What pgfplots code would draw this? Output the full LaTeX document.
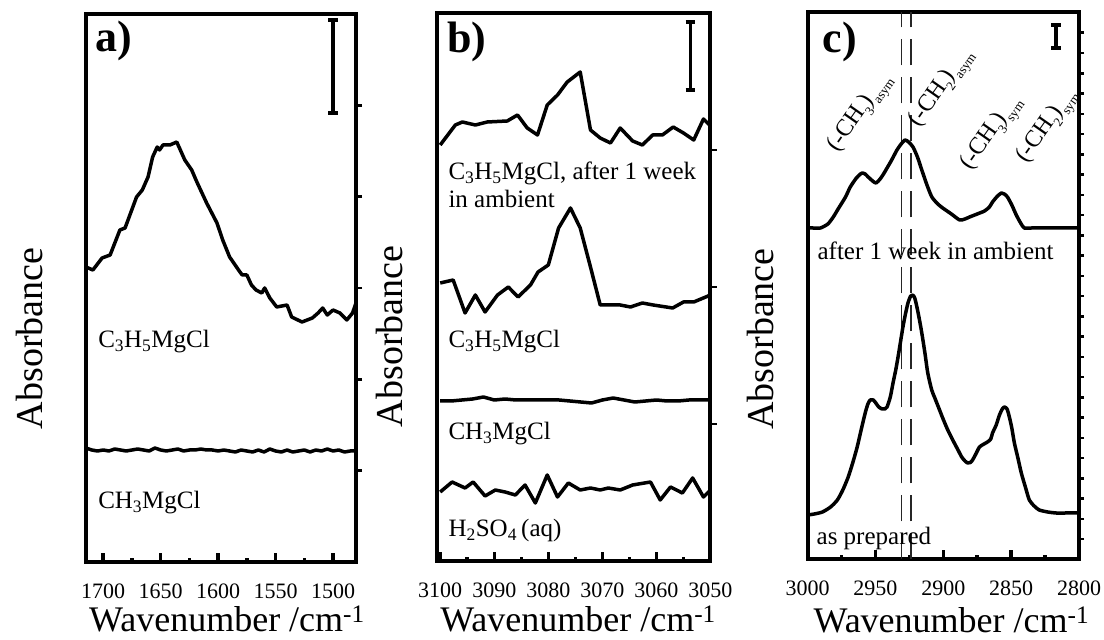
\documentclass[border=0pt]{standalone}
\usepackage{fontspec}
\setmainfont{Liberation Serif}
\usepackage{pgfplots}
\pgfplotsset{compat=1.18}
\newcommand{\lab}{\fontsize{25}{30}\selectfont}
\newcommand{\bandlab}{\fontsize{24}{28}\selectfont}
\newcommand{\bsub}[1]{\raisebox{-0.28em}{\fontsize{13}{13}\selectfont #1}}
\pgfplotsset{
  spec/.style={line width=3.5pt, black, line join=round, no markers},
  panel/.style={
    scale only axis, anchor=south west,
    x dir=reverse,
    axis line style={line width=4pt, line cap=rect},
    tick align=inside,
    xtick pos=bottom,
    ytick=\empty,
    major tick length=9pt, minor tick length=4pt,
    tick style={line width=3.5pt, black},
    /pgf/number format/assume math mode=true,
    /pgf/number format/set thousands separator={},
    tick label style={font=\fontsize{22}{22}\selectfont},
    xticklabel style={yshift=-18pt},
    xlabel={Wavenumber /cm\textsuperscript{-1}},
    ylabel={Absorbance},
    xlabel style={font=\fontsize{36}{36}\selectfont},
    ylabel style={font=\fontsize{38}{38}\selectfont},
  },
  rticks/.style={
    scale only axis, anchor=south west,
    xmin=0, xmax=1, xtick=\empty,
    ytick pos=right, tick align=outside, major tick length=6pt,
    yticklabels={},
    axis line style={draw=none},
    tick style={line width=2.5pt, black},
  }
}
\begin{document}
\begin{tikzpicture}
\useasboundingbox (0,0) rectangle (1104pt,640pt);

% ---------------- panel a ----------------
\begin{axis}[rticks, at={(86pt,78pt)}, width=270pt, height=548pt,
  ymin=78, ymax=626, ytick={169.3,260.7,352,443.3,534.7}]
\end{axis}
\begin{axis}[panel, at={(86pt,78pt)}, width=270pt, height=548pt,
  xmin=1480, xmax=1715, ymin=78, ymax=626,
  xtick={1500,1550,1600,1650,1700}, minor xtick={1525,1575,1625,1675},
  xlabel style={at={(axis description cs:0.522,-0.1265)}, anchor=base},
  ylabel style={at={(axis description cs:-0.1593,0.408)}, anchor=base},
]
\addplot[spec] coordinates {
(1715,373) (1709,370) (1701,382) (1694,385) (1685.5,410) (1681,412)
(1671,443) (1666,450) (1661,463) (1657,483) (1653,493) (1651,490)
(1648,495) (1642,495) (1636,498) (1629,480) (1623,470) (1618.5,458)
(1610,437) (1601,417) (1596,400) (1590,383) (1581,368) (1579,365)
(1575,365) (1571,355) (1567,350) (1562,347) (1559.5,352) (1555,342)
(1549,333) (1540,335) (1536,323) (1527,318) (1518,322) (1513,327)
(1509,332) (1505,325) (1500,330) (1494,327) (1488,320) (1483,327) (1480,337)};
\addplot[spec] coordinates {
(1715,192) (1710,190) (1705,189) (1700,190) (1695,189) (1690,191) (1685,190)
(1680,189) (1675,190) (1670,191) (1665,190) (1660,189) (1655,192) (1650,190)
(1645,189) (1640,190) (1635,191) (1630,189) (1625,190) (1620,190) (1615,191)
(1610,190) (1605,190) (1600,189) (1595,190) (1590,189) (1585,188) (1580,190)
(1575,189) (1570,188) (1565,190) (1560,188) (1555,191) (1550,189) (1545,188)
(1540,190) (1535,188) (1530,189) (1525,190) (1520,188) (1515,190) (1510,189)
(1505,191) (1500,189) (1495,190) (1490,188) (1485,189) (1480,189)};
\node[anchor=base west, inner sep=0, font=\bfseries\fontsize{44}{44}\selectfont] at (axis cs:1707,588) {a)};
\node[anchor=base west, inner sep=0, font=\lab] at (axis cs:1704.5,292) {C\textsubscript{3}H\textsubscript{5}MgCl};
\node[anchor=base west, inner sep=0, font=\lab] at (axis cs:1704.5,131) {CH\textsubscript{3}MgCl};
\draw[line width=3.5pt] (axis cs:1500,620) -- (axis cs:1500,527);
\draw[line width=3.5pt] (axis cs:1504.3,620) -- (axis cs:1495.7,620);
\draw[line width=3.5pt] (axis cs:1504.3,527) -- (axis cs:1495.7,527);
\end{axis}

% ---------------- panel b ----------------
\begin{axis}[rticks, at={(437.5pt,79pt)}, width=273pt, height=548pt,
  ymin=79, ymax=627, ytick={216,353,490}]
\end{axis}
\begin{axis}[panel, at={(437.5pt,79pt)}, width=273pt, height=548pt,
  xmin=3050, xmax=3100.5, ymin=79, ymax=627,
  xtick={3050,3060,3070,3080,3090,3100}, minor xtick={3055,3065,3075,3085,3095},
  xlabel style={at={(axis description cs:0.515,-0.1283)}, anchor=base},
  ylabel style={at={(axis description cs:-0.1264,0.41)}, anchor=base},
]
\addplot[spec] coordinates {
(3100,495) (3097.2,515) (3095.9,518) (3093.5,515) (3091.3,518) (3087.6,519)
(3085.7,525) (3083.9,512) (3082.0,505) (3080.2,535) (3078.3,545) (3076.5,558)
(3074.1,568) (3072.2,510) (3070.4,502) (3068.5,497) (3066.7,512) (3064.4,499)
(3062.6,495) (3060.7,505) (3058.9,505) (3056.9,513) (3055.0,507) (3053.1,500)
(3051.3,521) (3050,514)};
\addplot[spec] coordinates {
(3100,357) (3097.6,360) (3095.4,327) (3093.5,345) (3091.7,328) (3089.4,345)
(3087.4,353) (3085.6,343) (3083.3,355) (3081.9,368) (3080.0,375) (3078.1,412)
(3075.9,432) (3074.1,412) (3072.2,373) (3070.4,335) (3066.7,335) (3064.8,333)
(3062.6,337) (3060.6,335) (3057.0,332) (3055.0,338) (3053.1,338) (3050,345)};
\addplot[spec] coordinates {
(3100,239) (3098,239) (3096,240) (3094,241) (3092,243) (3090,240) (3088,241)
(3086,240) (3084,240) (3082,240) (3080,240) (3078,240) (3076,239) (3074,238)
(3072,237) (3070,240) (3068,242) (3066,240) (3064,238) (3062,239) (3060,240)
(3058,239) (3056,239) (3054,240) (3052,240) (3050,240)};
\addplot[spec] coordinates {
(3100,148) (3097.8,158) (3095.4,152) (3093.9,158) (3091.7,144) (3089.8,150)
(3088.0,148) (3086.1,145) (3084.3,155) (3082.4,137) (3080.2,165) (3078.3,143)
(3076.3,157) (3074.1,150) (3072.2,152) (3070.4,150) (3068.9,152) (3066.7,150)
(3064.4,155) (3061.1,158) (3059.3,140) (3057.4,153) (3055.2,147) (3053.3,162)
(3051.3,143) (3050,150)};
\node[anchor=base west, inner sep=0, font=\bfseries\fontsize{44}{44}\selectfont] at (axis cs:3098.7,587) {b)};
\node[anchor=base west, inner sep=0, font=\lab] at (axis cs:3098.5,460) {C\textsubscript{3}H\textsubscript{5}MgCl, after 1 week};
\node[anchor=base west, inner sep=0, font=\lab] at (axis cs:3098.5,432) {in ambient};
\node[anchor=base west, inner sep=0, font=\lab] at (axis cs:3098.5,292) {C\textsubscript{3}H\textsubscript{5}MgCl};
\node[anchor=base west, inner sep=0, font=\lab] at (axis cs:3098.5,200) {CH\textsubscript{3}MgCl};
\node[anchor=base west, inner sep=0, font=\lab] at (axis cs:3098.5,103) {H\textsubscript{2}SO\textsubscript{4}\,(aq)};
\draw[line width=3.5pt] (axis cs:3053.7,618) -- (axis cs:3053.7,550);
\draw[line width=3.5pt] (axis cs:3054.6,618) -- (axis cs:3052.8,618);
\draw[line width=3.5pt] (axis cs:3054.6,550) -- (axis cs:3052.8,550);
\end{axis}

% ---------------- panel c ----------------
\begin{axis}[rticks, at={(807.5pt,80.5pt)}, width=271.5pt, height=547pt,
  ymin=80.5, ymax=627.5, ytick={100.76,121.02,...,607.3}, major tick length=5pt]
\end{axis}
\begin{axis}[panel, at={(807.5pt,80.5pt)}, width=271.5pt, height=547pt,
  xmin=2800, xmax=3000, ymin=80.5, ymax=627.5,
  xtick={2800,2850,2900,2950,3000}, minor xtick={2825,2875,2925,2975},
  xlabel style={at={(axis description cs:0.53,-0.1326)}, anchor=base},
  ylabel style={at={(axis description cs:-0.1268,0.403)}, anchor=base},
]
\addplot[line width=1.5pt, black!85, dash pattern=on 26pt off 12pt] coordinates {(2930.6,80.5) (2930.6,627.5)};
\addplot[line width=1.5pt, black!85, dash pattern=on 26pt off 12pt] coordinates {(2923.8,80.5) (2923.8,627.5)};
\addplot[spec, smooth, tension=0.4] coordinates {
(3000,412) (2996,412) (2990.5,412) (2985,416) (2981,423) (2977,432) (2972,443)
(2968.5,453) (2964,462) (2961,466) (2959.7,467) (2957.5,466) (2955.3,463)
(2952,459) (2949.5,457) (2946.5,461) (2944,466) (2941.4,472) (2938,480)
(2934.1,490) (2931,496) (2928.2,500) (2925.5,498) (2922.3,493) (2919,483)
(2915.8,470) (2912,455) (2908.4,443) (2904,436) (2900.4,432) (2894,426)
(2887.9,420) (2884,421) (2880.6,423) (2875,426) (2869.6,429) (2866,433)
(2863.7,438) (2860,444) (2857.1,447) (2855,446) (2852.7,443) (2849.5,435)
(2846.2,425) (2843,417) (2840.3,412) (2835,412) (2800,412)};
\addplot[spec, smooth, tension=0.4] coordinates {
(3000,125) (2995,126) (2989,128) (2983,133) (2978,140) (2974,150) (2970,163)
(2966.5,178) (2963.4,193) (2960.5,210) (2957.5,227) (2955.5,236) (2953.8,240)
(2951.5,240) (2950.2,238) (2947.5,233) (2945,231) (2943,231) (2941.4,233)
(2939,243) (2937,257) (2935,270) (2933.3,283) (2931.5,298) (2929.7,313)
(2928,325) (2926,337) (2924,344) (2922.5,345) (2921,342) (2919.4,333)
(2917.5,320) (2915.8,307) (2913.5,287) (2911.4,267) (2908.5,250) (2906.2,242)
(2903,231) (2900.4,222) (2897,211) (2893,200) (2889.5,191) (2886.4,183)
(2884,179) (2882,177) (2880,177.5) (2878.4,180) (2876,186) (2873.3,193)
(2870,196) (2867.4,198) (2865,201) (2863.7,207) (2861,215) (2858.6,225)
(2856.5,231) (2855,233) (2853,231) (2851.3,223) (2849.5,212) (2847.6,197)
(2845,182) (2842.5,167) (2839.5,153) (2836.6,140) (2833,134) (2829.3,130)
(2823,128) (2816.8,127) (2810,127) (2801.5,127) (2800,127)};
\node[anchor=base west, inner sep=0, font=\bfseries\fontsize{44}{44}\selectfont] at (axis cs:2989,587) {c)};
\node[anchor=base west, inner sep=0, font=\lab] at (axis cs:2992.7,380) {after 1 week in ambient};
\node[anchor=base west, inner sep=0, font=\lab] at (axis cs:2993.4,95) {as prepared};
\node[anchor=base west, inner sep=0, rotate=55, font=\bandlab] at (axis cs:2978,487) {(-CH\bsub{3})\bsub{asym}};
\node[anchor=base west, inner sep=0, rotate=55, font=\bandlab] at (axis cs:2918,512) {(-CH\bsub{2})\bsub{asym}};
\node[anchor=base west, inner sep=0, rotate=55, font=\bandlab] at (axis cs:2880,469) {(-CH\bsub{3})\bsub{sym}};
\node[anchor=base west, inner sep=0, rotate=55, font=\bandlab] at (axis cs:2839,476) {(-CH\bsub{2})\bsub{sym}};
\draw[line width=3.5pt] (axis cs:2816.8,615) -- (axis cs:2816.8,592);
\draw[line width=3.5pt] (axis cs:2820.5,615) -- (axis cs:2813.1,615);
\draw[line width=3.5pt] (axis cs:2820.5,592) -- (axis cs:2813.1,592);
\end{axis}
\end{tikzpicture}
\end{document}
